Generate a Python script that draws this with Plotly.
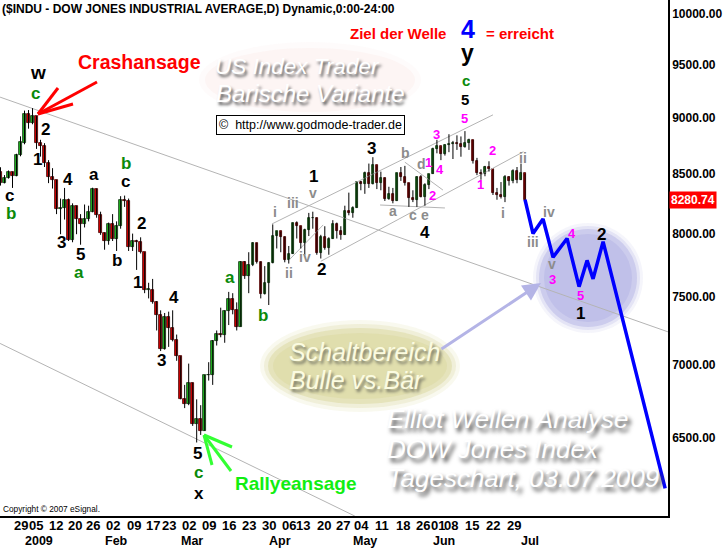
import math
import plotly.graph_objects as go

# ---------------- data ----------------
dates = ["2008-12-23","2008-12-24","2008-12-26","2008-12-29","2008-12-30","2008-12-31",
"2009-01-02","2009-01-05","2009-01-06","2009-01-07","2009-01-08","2009-01-09","2009-01-12","2009-01-13","2009-01-14","2009-01-15","2009-01-16",
"2009-01-20","2009-01-21","2009-01-22","2009-01-23","2009-01-26","2009-01-27","2009-01-28","2009-01-29","2009-01-30",
"2009-02-02","2009-02-03","2009-02-04","2009-02-05","2009-02-06","2009-02-09","2009-02-10","2009-02-11","2009-02-12","2009-02-13",
"2009-02-17","2009-02-18","2009-02-19","2009-02-20","2009-02-23","2009-02-24","2009-02-25","2009-02-26","2009-02-27",
"2009-03-02","2009-03-03","2009-03-04","2009-03-05","2009-03-06","2009-03-09","2009-03-10","2009-03-11","2009-03-12","2009-03-13",
"2009-03-16","2009-03-17","2009-03-18","2009-03-19","2009-03-20","2009-03-23","2009-03-24","2009-03-25","2009-03-26","2009-03-27",
"2009-03-30","2009-03-31","2009-04-01","2009-04-02","2009-04-03","2009-04-06","2009-04-07","2009-04-08","2009-04-09",
"2009-04-13","2009-04-14","2009-04-15","2009-04-16","2009-04-17","2009-04-20","2009-04-21","2009-04-22","2009-04-23","2009-04-24",
"2009-04-27","2009-04-28","2009-04-29","2009-04-30","2009-05-01","2009-05-04","2009-05-05","2009-05-06","2009-05-07","2009-05-08",
"2009-05-11","2009-05-12","2009-05-13","2009-05-14","2009-05-15","2009-05-18","2009-05-19","2009-05-20","2009-05-21","2009-05-22",
"2009-05-26","2009-05-27","2009-05-28","2009-05-29","2009-06-01","2009-06-02","2009-06-03","2009-06-04","2009-06-05",
"2009-06-08","2009-06-09","2009-06-10","2009-06-11","2009-06-12","2009-06-15","2009-06-16","2009-06-17","2009-06-18","2009-06-19",
"2009-06-22","2009-06-23","2009-06-24","2009-06-25","2009-06-26","2009-06-29","2009-06-30","2009-07-01","2009-07-02"]

opens = [8520,8419,8468,8516,8484,8668, 8772,9035,8954,9015,8770,8742,8599,8474,8449,8200,8212,
8281,7949,8228,8123,8078,8116,8175,8375,8149, 8001,7937,8078,7957,8063,8281,8271,7889,7940,7933,
7850,7553,7556,7466,7366,7115,7351,7271,7182, 7063,6763,6726,6876,6594,6627,6547,6926,6930,7170,
7224,7217,7396,7487,7401,7278,7776,7660,7750,7925, 7776,7522,7609,7762,7978,8018,7976,7790,7837,
8083,8058,7920,8030,8125,8131,7842,7970,7887,7957, 8076,8025,7989,8186,8168,8212,8427,8411,8512,8410,
8575,8419,8469,8285,8331,8269,8504,8475,8422,8292, 8277,8473,8300,8404,8500,8721,8741,8675,8750,
8763,8764,8763,8739,8771,8799,8612,8505,8497,8556, 8540,8339,8323,8300,8472,8438,8529,8447,8504]
highs = [8558,8490,8530,8520,8676,8831, 9065,9070,9088,9015,8800,8770,8620,8550,8449,8290,8380,
8290,8250,8230,8160,8240,8230,8382,8375,8180, 8010,8090,8160,8100,8310,8315,8290,8000,7950,7970,
7850,7610,7640,7470,7400,7380,7390,7400,7220, 7063,6860,7010,6876,6760,6720,6930,7020,7180,7250,
7420,7400,7540,7530,7460,7780,7780,7850,7930,7925, 7776,7740,7770,8075,8020,8018,7976,7900,8090,
8100,8060,8040,8170,8180,8131,7990,8060,7970,8110, 8090,8060,8230,8340,8225,8430,8440,8520,8590,8646,
8575,8520,8469,8390,8380,8510,8560,8570,8422,8360, 8480,8490,8420,8500,8730,8800,8741,8760,8850,
8790,8840,8830,8878,8810,8799,8640,8540,8570,8610, 8540,8380,8430,8490,8480,8540,8560,8590,8504]
lows = [8400,8419,8460,8380,8480,8654, 8760,8900,8940,8719,8651,8560,8421,8375,8160,7995,8115,
7940,7930,7995,7910,8050,8100,8175,8130,7990, 7870,7910,7940,7860,8040,8220,7860,7860,7710,7840,
7530,7490,7450,7250,7100,7110,7130,7170,7030, 6760,6700,6720,6580,6470,6520,6547,6890,6860,7140,
7200,7160,7290,7370,7250,7278,7640,7530,7740,7760, 7490,7520,7440,7762,7880,7850,7770,7760,7837,
7960,7880,7830,7980,8040,7830,7800,7870,7830,7957, 7960,7950,7989,8150,8130,8212,8360,8330,8380,8410,
8370,8360,8270,8280,8250,8269,8440,8400,8220,8260, 8220,8300,8230,8370,8500,8680,8620,8660,8690,
8630,8710,8650,8730,8710,8590,8490,8450,8480,8520, 8320,8280,8290,8260,8400,8420,8420,8447,8270]
closes = [8419,8468,8516,8484,8668,8776, 9035,8953,9015,8770,8742,8599,8474,8449,8200,8212,8281,
7949,8228,8123,8078,8116,8175,8375,8149,8001, 7937,8078,7957,8063,8281,8271,7889,7940,7933,7850,
7553,7556,7466,7366,7115,7351,7271,7182,7063, 6763,6726,6876,6594,6627,6547,6926,6930,7170,7224,
7217,7396,7487,7401,7278,7776,7660,7750,7925,7776, 7522,7609,7762,7978,8018,7976,7790,7837,8083,
8058,7920,8030,8125,8131,7842,7970,7887,7957,8076, 8025,7989,8186,8168,8212,8427,8411,8512,8410,8575,
8419,8469,8285,8331,8269,8504,8475,8422,8292,8277, 8473,8300,8404,8500,8721,8741,8675,8750,8763,
8764,8763,8739,8771,8799,8612,8505,8497,8556,8540, 8339,8323,8300,8472,8438,8529,8447,8504,8280.74]
last_close = 8280.74

# projected Elliott path (trading-day index, price)
proj_idx = [128, 130, 132.5, 135, 138.5, 141.5, 143.5, 145, 147.5, 163]
proj_price = [8280.74, 8000, 8120, 7810, 7960, 7580, 7785, 7640, 7935, 6175]

# hand-drawn trend lines (trading-day index, price)
trend_lines = {
    "top":        ([-3.1, 163.7], [9190, 7240]),
    "bottom":     ([-3.1, 85.5], [7155, 6004]),
    "chan_up":    ([64.8, 120.0], [8079, 9026]),
    "chan_low":   ([77.0, 127.6], [7778, 8694]),
    "sub_ii_iv":  ([69.1, 77.6], [7789, 8071]),
    "tri_b_d":    ([98.0, 107.5], [8602, 8362]),
    "tri_a_e":    ([91.8, 108.0], [8236, 8211]),
}

ytick_vals = [6500, 7000, 7500, 8000, 8500, 9000, 9500, 10000]
day_labels = ["29","05","12","20","26","02","09","17","23","02","09","16","23","30",
              "06","13","20","27","04","11","18","26","01","08","15","22","29"]
day_label_dates = ["2008-12-29","2009-01-05","2009-01-12","2009-01-20","2009-01-26","2009-02-02","2009-02-09",
    "2009-02-17","2009-02-23","2009-03-02","2009-03-09","2009-03-16","2009-03-23","2009-03-30","2009-04-06",
    "2009-04-13","2009-04-20","2009-04-27","2009-05-04","2009-05-11","2009-05-18","2009-05-26","2009-06-01",
    "2009-06-08","2009-06-15","2009-06-22","2009-06-29"]
month_labels = ["2009","Feb","Mar","Apr","May","Jun","Jul"]
month_label_dates = ["2009-01-02","2009-02-02","2009-03-02","2009-04-01","2009-05-01","2009-06-01","2009-07-01"]

# ---------------- geometry helpers (style) ----------------
W, H = 725, 548
PL_W, PL_H = 668, 516
X0 = dates.index("2008-12-29")
idx = [k - X0 for k in range(len(dates))]
def di(d):
    return dates.index(d) - X0
px_per_day = 4.004
x_range = [-12.5 / px_per_day, (PL_W - 12.5) / px_per_day]
y_range = [4 - (PL_H - 14) / 2266.0, 4 + 14 / 2266.0]

def px(x):
    return x / PL_W
def py(y):
    return 1 - y / PL_H

GREEN = "#1fb51f"
RED = "#d40000"
FONT = "Liberation Sans, Arial, sans-serif"

fig = go.Figure()

for name, (xs, ys) in trend_lines.items():
    fig.add_trace(go.Scatter(x=xs, y=ys, mode="lines", line=dict(color="#b4b4b4", width=1),
                             hoverinfo="skip", showlegend=False))

wx, wy = [], []
for i, h, l in zip(idx, highs, lows):
    wx += [i, i, None]
    wy += [l, h, None]
fig.add_trace(go.Scatter(x=wx, y=wy, mode="lines", line=dict(color="#000000", width=1),
                         hoverinfo="skip", showlegend=False))

up_x, up_b, up_h, dn_x, dn_b, dn_h = [], [], [], [], [], []
for i, o, c in zip(idx, opens, closes):
    lo, hi = min(o, c), max(o, c)
    hgt = max(hi - lo, 6)
    if c >= o:
        up_x.append(i); up_b.append(lo); up_h.append(hgt)
    else:
        dn_x.append(i); dn_b.append(lo); dn_h.append(hgt)
fig.add_trace(go.Bar(x=up_x, y=up_h, base=up_b, width=0.62, marker=dict(color=GREEN, line=dict(color="#103010", width=0.8)),
                     showlegend=False, hoverinfo="skip"))
fig.add_trace(go.Bar(x=dn_x, y=dn_h, base=dn_b, width=0.62, marker=dict(color=RED, line=dict(color="#400000", width=0.8)),
                     showlegend=False, hoverinfo="skip"))

fig.add_trace(go.Scatter(x=proj_idx, y=proj_price, mode="lines", line=dict(color="#0000ff", width=3.5),
                         hoverinfo="skip", showlegend=False))

shapes = []
cx, cy, r = 588, 278, 50
for k, op in [(5, 0.07), (2, 0.12), (-1, 0.2), (-6, 0.12)]:
    rr = r + k
    shapes.append(dict(type="circle", xref="paper", yref="paper", layer="below",
                       x0=px(cx - rr), x1=px(cx + rr), y0=py(cy + rr), y1=py(cy - rr),
                       fillcolor=f"rgba(110,110,205,{op})", line=dict(width=0)))
ex, ey, rx, ry = 360, 366, 92, 38
for k, op in [(8, 0.15), (4, 0.25), (0, 0.45), (-5, 0.35)]:
    shapes.append(dict(type="circle", xref="paper", yref="paper", layer="above",
                       x0=px(ex - rx - k), x1=px(ex + rx + k), y0=py(ey + ry + k), y1=py(ey - ry - k),
                       fillcolor=f"rgba(215,212,150,{op})", line=dict(width=0)))
for k, op in [(6, 0.12), (0, 0.2)]:
    shapes.append(dict(type="circle", xref="paper", yref="paper", layer="below",
                       x0=px(205 - k), x1=px(415 + k), y0=py(112 + k), y1=py(48 - k),
                       fillcolor=f"rgba(250,225,220,{op})", line=dict(width=0)))
for (x1, y1) in [(97, 82), (58, 88), (73, 104)]:
    shapes.append(dict(type="line", xref="paper", yref="paper", x0=px(38), y0=py(114), x1=px(x1), y1=py(y1),
                       line=dict(color="#ff0000", width=3)))
for (x1, y1) in [(232, 447), (212, 465), (231, 471)]:
    shapes.append(dict(type="line", xref="paper", yref="paper", x0=px(204), y0=py(435), x1=px(x1), y1=py(y1),
                       line=dict(color="#33ff33", width=3)))

ann = []
def lab(text, x, y, color="#000000", size=16, bold=True, **kw):
    d = dict(text=text, x=px(x), y=py(y), xref="paper", yref="paper", showarrow=False,
             xanchor="center", yanchor="middle", borderpad=0,
             font=dict(family=FONT, size=size, color=color, weight="bold" if bold else "normal"))
    d.update(kw)
    ann.append(d)

BLK, GRN, GRY, MAG = "#000000", "#0a8a0a", "#8c8c8c", "#ff00ff"
lab("($INDU - DOW JONES INDUSTRIAL AVERAGE,D) Dynamic,0:00-24:00", 1, 9, size=12, xanchor="left")
lab("Ziel der Welle", 398, 33, "#ff0000", 15)
lab("4", 468, 29, "#0000ff", 25)
lab("= erreicht", 520, 33, "#ff0000", 15)
lab("y", 467, 53, BLK, 23)
lab("c", 466, 80, GRN, 15)
lab("5", 465, 99, BLK, 15)
lab("Crashansage", 139, 62, "#ff0000", 19.5)
lab("w", 38, 72, BLK, 19)
lab("c", 35, 93, GRN, 17)
for t, x, y, c in [("2", 45, 129, BLK), ("1", 37, 159, BLK), ("4", 68, 180, BLK), ("a", 94, 175, BLK),
                   ("b", 126, 163, GRN), ("c", 125, 182, BLK), ("c", 9, 195, BLK), ("b", 11, 213, GRN),
                   ("3", 61, 243, BLK), ("5", 80, 254, BLK), ("a", 79, 272, GRN), ("b", 117, 260, BLK),
                   ("2", 141, 223, BLK), ("1", 137, 282, BLK), ("4", 174, 297, BLK), ("3", 161, 360, BLK),
                   ("5", 197, 453, BLK), ("c", 198, 472, GRN), ("x", 199, 493, BLK),
                   ("a", 230, 277, GRN), ("b", 263, 315, GRN), ("1", 313, 177, BLK), ("2", 321, 269, BLK),
                   ("3", 372, 148, BLK), ("4", 425, 232, BLK), ("2", 601, 235, BLK),
                   ("1", 580, 313, BLK)]:
    lab(t, x, y, c, 17)
for t, x, y in [("i", 275, 212), ("iii", 293, 203), ("v", 313, 193), ("ii", 289, 273), ("iv", 305, 257),
                ("b", 405, 153), ("d", 421, 164), ("a", 393, 211), ("c", 413, 215), ("e", 425, 215),
                ("i", 503, 213), ("ii", 523, 158), ("iii", 533, 242), ("iv", 549, 212), ("v", 552, 264)]:
    lab(t, x, y, GRY, 14)
for t, x, y in [("1", 428, 162), ("3", 436, 134), ("4", 440, 169), ("2", 432, 195), ("5", 464, 119),
                ("2", 492, 150), ("1", 480, 185), ("3", 552, 279), ("4", 572, 234), ("5", 580, 295)]:
    lab(t, x, y, MAG, 13)

lab("Rallyeansage", 295, 483, "#11ee11", 19)

def glow(text, x, y, size, color="#ffffff", shadow="2px 3px 3px #555555"):
    d = dict(text=text, x=px(x), y=py(y), xref="paper", yref="paper", showarrow=False,
             xanchor="left", yanchor="middle",
             font=dict(family=FONT, size=size, color=color, style="italic", shadow=shadow))
    ann.append(d)
glow("US Index Trader", 213, 66, 22.5)
glow("Barische Variante", 214, 93, 24)
glow("Schaltbereich", 287, 352, 25, "#fbfbe0", "2px 3px 3px #777766")
glow("Bulle vs.Bär", 287, 380, 25, "#fbfbe0", "2px 3px 3px #777766")
glow("Elliot Wellen Analyse", 385, 419, 26, "#ffffff", "3px 4px 4px #444444")
glow("DOW Jones Index", 385, 449, 26, "#ffffff", "3px 4px 4px #444444")
glow("Tageschart, 03.07.2009", 385, 478, 26, "#ffffff", "3px 4px 4px #444444")

ann.append(dict(text="©  http://www.godmode-trader.de", x=px(216), y=py(125), xref="paper", yref="paper",
                showarrow=False, xanchor="left", yanchor="middle", bordercolor="#000000", borderwidth=1,
                borderpad=2, bgcolor="#ffffff", font=dict(family=FONT, size=12.5, color="#000000")))
ann.append(dict(text="Copyright © 2007 eSignal.", x=px(2), y=py(509), xref="paper", yref="paper",
                showarrow=False, xanchor="left", yanchor="middle", borderpad=0,
                font=dict(family=FONT, size=8.3, color="#000000")))
ann.append(dict(text="", x=px(541), y=py(283), ax=-101, ay=67, xref="paper", yref="paper",
                showarrow=True, arrowhead=2, arrowsize=1.2, arrowwidth=3, arrowcolor="#b4b4e6"))

ann.append(dict(text=f"{last_close:.2f}", x=1, y=math.log10(last_close), xref="paper", yref="y",
                xanchor="left", yanchor="middle", showarrow=False, bgcolor="#ff0000", borderpad=1, xshift=1,
                font=dict(family=FONT, size=12, color="#ffffff", weight="bold")))

day_shift = [8, 7.5, 7.5, 6.5, 8, 8, 9.5, 8.5, 8.5, 8.5, 8.5, 8.5, 8.5, 8.5, 8.7, 6.5, 7, 6.5, 5, 5, 6, 6, 5.5, -2, -1, 0, 1]
for t, d, s in zip(day_labels, day_label_dates, day_shift):
    ann.append(dict(text=t, x=di(d), y=0, xref="x", yref="paper", yanchor="middle", xanchor="center",
                    yshift=-9, xshift=s, showarrow=False, borderpad=0,
                    font=dict(family=FONT, size=13, color="#000000", weight="bold")))
for t, d in zip(month_labels, month_label_dates):
    ann.append(dict(text=t, x=di(d), y=0, xref="x", yref="paper", yanchor="middle", xanchor="left",
                    yshift=-25, xshift=-1, showarrow=False, borderpad=0,
                    font=dict(family=FONT, size=12.5, color="#000000", weight="bold")))

fig.update_layout(
    width=W, height=H, margin=dict(l=0, r=W - PL_W, t=0, b=H - PL_H),
    paper_bgcolor="#ffffff", plot_bgcolor="#ffffff", barmode="overlay", bargap=0,
    showlegend=False, shapes=shapes, annotations=ann,
    xaxis=dict(range=x_range, showgrid=False, zeroline=False, showticklabels=False, ticks="",
               showline=True, linecolor="#000000", linewidth=1.5, fixedrange=True),
    yaxis=dict(type="log", range=y_range, side="right", showgrid=False, zeroline=False,
               tickvals=ytick_vals, ticktext=[f"{v:.2f}" for v in ytick_vals], ticks="",
               tickfont=dict(family=FONT, size=12, color="#000000", weight="bold"),
               showline=True, linecolor="#000000", linewidth=1.5, fixedrange=True),
)
fig.write_html("out.html", config={"displayModeBar": False},
               post_script="document.body.style.margin='0px';document.body.style.overflow='hidden';")
